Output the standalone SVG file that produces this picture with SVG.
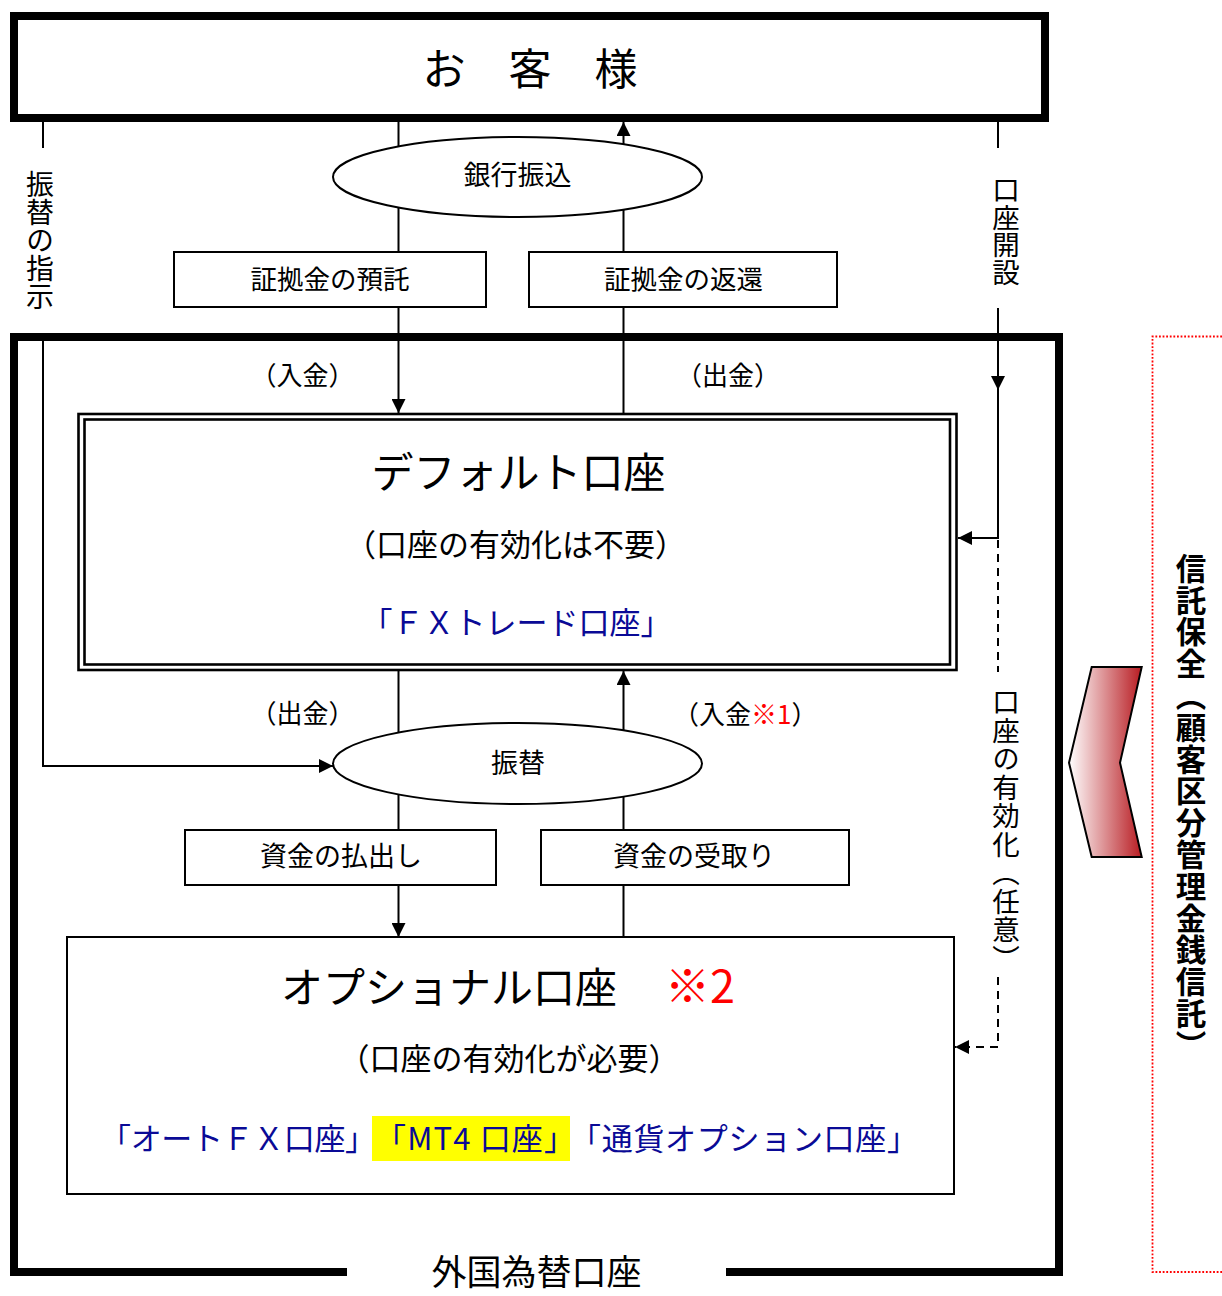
<svg xmlns="http://www.w3.org/2000/svg" width="1222" height="1296" viewBox="0 0 1222 1296">
<style>
text{font-family:"Noto Sans CJK JP","Noto Sans CJK SC",sans-serif;fill:#000}
.c{text-anchor:middle}
.ln{fill:none;stroke:#000;stroke-width:2}
.dash{fill:none;stroke:#000;stroke-width:2;stroke-dasharray:8 6}
.box{fill:#fff;stroke:#000;stroke-width:2}
.blue{fill:#0a0a96}
.red{fill:#ff0000}
.vt{writing-mode:vertical-rl}
</style>
<defs>
<marker id="ah" markerUnits="userSpaceOnUse" markerWidth="14" markerHeight="14" refX="14" refY="7" orient="auto">
<path d="M0,0 L14,7 L0,14 z" fill="#000"/>
</marker>
<linearGradient id="gr" x1="0" y1="0" x2="1" y2="0">
<stop offset="0" stop-color="#ffffff"/>
<stop offset="1" stop-color="#b81c22"/>
</linearGradient>
</defs>

<g id="connectors">
<path class="ln" d="M398.5,122 V413" marker-end="url(#ah)"/>
<path class="ln" d="M623.5,413 V122" marker-end="url(#ah)"/>
<path class="ln" d="M398.5,671 V937" marker-end="url(#ah)"/>
<path class="ln" d="M623.5,937 V671" marker-end="url(#ah)"/>
<path class="ln" d="M43,122 V148"/>
<path class="ln" d="M43,337 V766 H333" marker-end="url(#ah)"/>
<path class="ln" d="M998,122 V148"/>
<path class="ln" d="M998,308 V390" marker-end="url(#ah)"/>
<path class="ln" d="M998,388 V538 H958" marker-end="url(#ah)"/>
<path class="dash" d="M998,540 V672"/>
<path class="dash" d="M998,977 V1047 H955" marker-end="url(#ah)"/>
</g>

<g id="customer">
<rect x="14" y="16" width="1031" height="102" fill="#fff" stroke="#000" stroke-width="8"/>
<text class="c" x="530" y="85" font-size="43">お　客　様</text>
</g>

<g id="fx-account">
<path d="M347,1272 H14 V337 H1059 V1272 H726" fill="none" stroke="#000" stroke-width="8"/>
<text class="c" x="536.5" y="1285" font-size="35">外国為替口座</text>
</g>

<g id="bank-transfer">
<ellipse cx="517.5" cy="177" rx="184.5" ry="40" class="box"/>
<text class="c" x="517.5" y="185" font-size="27">銀行振込</text>
</g>

<g id="deposit-margin">
<rect x="174" y="252" width="312" height="55" class="box"/>
<text class="c" x="330" y="288.5" font-size="26.5">証拠金の預託</text>
</g>

<g id="return-margin">
<rect x="529" y="252" width="308" height="55" class="box"/>
<text class="c" x="683.5" y="288.5" font-size="26.5">証拠金の返還</text>
</g>

<g id="labels">
<text class="c" x="302.5" y="385" font-size="26">（入金）</text>
<text class="c" x="728" y="385" font-size="26">（出金）</text>
<text class="c" x="302.5" y="722.5" font-size="26">（出金）</text>
<text x="673" y="723.5" font-size="26">（入金<tspan class="red">※1</tspan>）</text>
<text class="vt" x="40" y="170" font-size="28">振替の指示</text>
<text class="vt" x="1006" y="176" font-size="27.5">口座開設</text>
<text class="vt" x="1006" y="688" font-size="27.5" letter-spacing="1">口座の有効化（任意）</text>
</g>

<g id="default-account">
<rect x="78.5" y="414" width="878" height="256" fill="#fff" stroke="#000" stroke-width="2.6"/>
<rect x="84.5" y="419.5" width="865.5" height="245" fill="none" stroke="#000" stroke-width="2.6"/>
<text class="c" x="518.5" y="487.5" font-size="42">デフォルト口座</text>
<text class="c" x="515.5" y="555.5" font-size="31">（口座の有効化は不要）</text>
<text class="c blue" x="516.5" y="634" font-size="31">「ＦＸトレード口座」</text>
</g>

<g id="transfer">
<ellipse cx="517.5" cy="763.5" rx="184.5" ry="40.5" class="box"/>
<text class="c" x="518" y="773" font-size="27">振替</text>
</g>

<g id="pay-out">
<rect x="185" y="830" width="311" height="55" class="box"/>
<text class="c" x="341" y="866" font-size="27">資金の払出し</text>
</g>

<g id="receive">
<rect x="541" y="830" width="308" height="55" class="box"/>
<text class="c" x="694" y="866" font-size="27">資金の受取り</text>
</g>

<g id="optional-account">
<rect x="67" y="937" width="887" height="257" class="box"/>
<text x="281" y="1003" font-size="42">オプショナル口座　<tspan class="red" font-size="45" dx="6">※2</tspan></text>
<text class="c" x="509" y="1070" font-size="31">（口座の有効化が必要）</text>
<rect x="372" y="1116" width="198" height="45" fill="#ffff00"/>
<text class="blue" x="100" y="1150" font-size="31" textLength="276" lengthAdjust="spacing">「オートＦＸ口座」</text>
<text class="blue" x="375" y="1150" font-size="31" textLength="200" lengthAdjust="spacing">「MT4 口座」</text>
<text class="blue" x="570" y="1150" font-size="31" textLength="348" lengthAdjust="spacing">「通貨オプション口座」</text>
</g>

<g id="trust">
<path d="M1240,336.5 H1152.5 V1272 H1240" fill="none" stroke="#ff0000" stroke-width="1.8" stroke-dasharray="1.8 1.8"/>
<polygon points="1091.7,667 1141.7,667 1120,762.7 1141.7,857 1091.7,857 1069,762.7" fill="url(#gr)" stroke="#000" stroke-width="2"/>
<text class="vt" x="1191" y="553" font-size="30.5" font-weight="bold" letter-spacing="1.3">信託保全（顧客区分管理金銭信託）</text>
</g>
</svg>
